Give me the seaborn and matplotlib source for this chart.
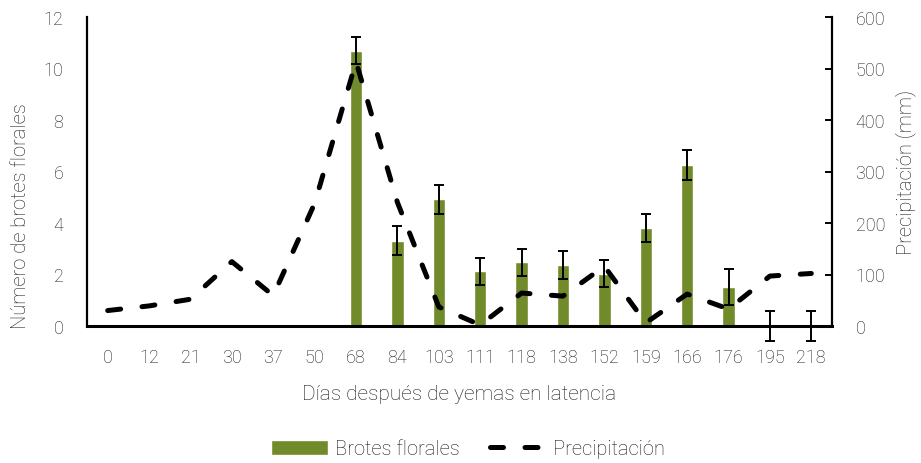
import numpy as np
import pandas as pd
import matplotlib
matplotlib.use("Agg")
import matplotlib.pyplot as plt
import seaborn as sns

dias = ["0", "12", "21", "30", "37", "50", "68", "84", "103", "111",
        "118", "138", "152", "159", "166", "176", "195", "218"]
brotes = [0, 0, 0, 0, 0, 0, 10.69, 3.31, 4.92, 2.12,
          2.47, 2.37, 2.03, 3.81, 6.25, 1.51, 0, 0]
brotes_err = [np.nan] * 6 + [0.52, 0.57, 0.57, 0.52,
                             0.52, 0.53, 0.53, 0.53, 0.58, 0.70, 0.60, 0.60]
precip = [30, 39, 52, 125, 59, 238, 513, 240, 37, 2,
          64, 58, 116, 6, 62, 33, 97, 102]

sns.set_theme(style="white")
plt.rcParams["font.family"] = ["Roboto", "DejaVu Sans"]
plt.rcParams["font.weight"] = "light"
plt.rcParams["axes.labelweight"] = "light"

txt = "#1a1a1a"
green = "#718B2B"
df = pd.DataFrame({"dias": dias, "brotes": brotes, "err": brotes_err,
                   "precip": precip, "pos": np.arange(len(dias))})

fig = plt.figure(figsize=(9.21, 4.64), dpi=100)
ax = fig.add_axes([87 / 921, 1 - 327 / 464, (832 - 87) / 921, (327 - 18) / 464])

sns.barplot(data=df, x="dias", y="brotes", color=green, saturation=1,
            width=0.3, ax=ax, label="Brotes florales", errorbar=None)
ax.errorbar(df["pos"], df["brotes"], yerr=df["err"], fmt="none",
            ecolor="black", elinewidth=1.4, capsize=3.4, capthick=1.4,
            clip_on=False, zorder=3)

ax.set_ylim(0, 12)
ax.set_xlim(-0.5, len(dias) - 0.5)
ax.set_yticks(np.arange(0, 13, 2))
ax.set_xlabel("Días después de yemas en latencia", fontsize=15,
              color=txt, labelpad=13, fontweight="light")
ax.set_ylabel("Número de brotes florales", fontsize=14.5, color=txt,
              fontweight="light")
ax.yaxis.set_label_coords(-0.077, 0.36)
ax.tick_params(axis="y", length=0, pad=17, labelsize=13, labelcolor=txt)
ax.tick_params(axis="x", length=0, pad=16, labelsize=13, labelcolor=txt)
for s in ["top", "right"]:
    ax.spines[s].set_visible(False)
ax.spines["left"].set_color("black")
ax.spines["left"].set_linewidth(1.6)
ax.spines["bottom"].set_color("black")
ax.spines["bottom"].set_linewidth(2.2)

ax2 = ax.twinx()
sns.lineplot(data=df, x="pos", y="precip", ax=ax2, color="black",
             linewidth=3.6, label="Precipitación")
ln = ax2.get_lines()[0]
ln.set_dashes((2.6, 4.3))
ln.set_dash_capstyle("round")
ax2.set_ylim(0, 600)
ax2.set_xlim(-0.5, len(dias) - 0.5)
ax2.set_yticks(np.arange(0, 601, 100))
ax2.set_ylabel("Precipitación (mm)", fontsize=14.5, color=txt,
               fontweight="light")
ax2.yaxis.set_label_coords(1.085, 0.5)
ax2.tick_params(axis="y", direction="in", length=5, width=1.4, color="black",
                pad=17, labelsize=13, labelcolor=txt)
for s in ["top", "left", "bottom"]:
    ax2.spines[s].set_visible(False)
ax2.spines["right"].set_color("black")
ax2.spines["right"].set_linewidth(1.6)
ax2.grid(False)
ax.grid(False)

h1, l1 = ax.get_legend_handles_labels()
h2, l2 = ax2.get_legend_handles_labels()
if ax.get_legend():
    ax.get_legend().remove()
if ax2.get_legend():
    ax2.get_legend().remove()
leg = fig.legend(h1 + h2, l1 + l2, loc="center", bbox_to_anchor=(468 / 921, 1 - 450 / 464),
                 ncol=2, frameon=False, fontsize=14.5, handlelength=2.8,
                 handleheight=0.8, columnspacing=1.5, handletextpad=0.35)
for t in leg.get_texts():
    t.set_color(txt)

fig.savefig("out.png", dpi=100)
